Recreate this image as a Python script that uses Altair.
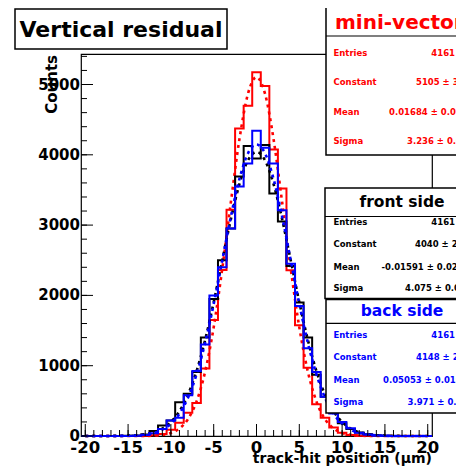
import altair as alt
import pandas as pd

# ---------------- data ----------------
bin_centers = list(range(-20, 21))

red_counts = [0, 0, 0, 0, 0, 0, 0, 3, 10, 30, 90, 190, 330, 470, 960, 1650, 2360, 3220, 4376, 4698,
              5174, 4979, 4077, 3521, 2357, 1574, 970, 450, 260, 120, 45, 15, 5, 2, 0, 0, 0, 0, 0, 0, 0]
black_counts = [0, 0, 0, 0, 0, 3, 8, 20, 70, 150, 220, 480, 600, 910, 1400, 1950, 2500, 2950, 3690, 4124,
                3949, 4138, 3450, 3050, 2420, 1900, 1400, 870, 560, 330, 180, 100, 50, 25, 10, 4, 0, 0, 0, 0, 0]
blue_counts = [0, 0, 0, 0, 0, 0, 5, 15, 40, 100, 220, 260, 580, 925, 1300, 2000, 2400, 2950, 3550, 3877,
               4342, 4100, 3877, 3210, 2450, 1850, 1250, 910, 560, 320, 200, 110, 45, 20, 8, 3, 0, 0, 0, 0, 0]

fit_x = list(range(-20, 21))
red_fit = [0, 0, 0, 0, 0, 0, 0, 1, 5, 16, 43, 107, 240, 492, 915, 1547, 2378, 3321, 4217, 4867,
           5105, 4867, 4217, 3321, 2378, 1547, 915, 492, 240, 107, 43, 16, 5, 1, 0, 0, 0, 0, 0, 0, 0]
black_fit = [0, 0, 0, 1, 2, 5, 11, 25, 53, 106, 199, 353, 588, 924, 1367, 1903, 2496, 3081, 3581, 3920,
             4040, 3920, 3581, 3081, 2496, 1903, 1367, 924, 588, 353, 199, 106, 53, 25, 11, 5, 2, 1, 0, 0, 0]
blue_fit = [0, 0, 0, 0, 1, 3, 8, 20, 43, 90, 174, 318, 545, 877, 1325, 1877, 2498, 3118, 3654, 4019,
            4148, 4019, 3654, 3118, 2498, 1877, 1325, 877, 545, 318, 174, 90, 43, 20, 8, 3, 1, 0, 0, 0, 0]

x_major = [-20, -15, -10, -5, 0, 5, 10, 15, 20]
x_minor = list(range(-20, 21))
y_major = [0, 1000, 2000, 3000, 4000, 5000]
y_minor = list(range(0, 5401, 200))

stats = {
    "mini-vector": ["4161", "5105 \u00b1 31.", "0.01684 \u00b1 0.0159", "3.236 \u00b1 0.01"],
    "front side": ["4161", "4040 \u00b1 24.", "-0.01591 \u00b1 0.0200", "4.075 \u00b1 0.01"],
    "back side": ["4161", "4148 \u00b1 25.", "0.05053 \u00b1 0.0195", "3.971 \u00b1 0.01"],
}
row_names = ["Entries", "Constant", "Mean", "Sigma"]

# ---------------- layout (page pixels) ----------------
FX0, FY0 = 81, 54          # plot frame origin on page
W, H = 351, 382
FONT = "DejaVu Sans"
SVG_W, SVG_H = 448, 458

xs = alt.Scale(domain=[-20.5, 20.5], nice=False, zero=False)
ys = alt.Scale(domain=[0, 5434], nice=False, zero=False)

one = pd.DataFrame({"k": [0]})


def vx(px):
    return px - FX0


def vy(py):
    return py - FY0


def text(t, px, py, size, color="black", align="left", baseline="middle", angle=0, weight="bold"):
    props = dict(font=FONT, fontSize=size, fontWeight=weight, color=color,
                 align=align, baseline=baseline)
    if angle:
        props["angle"] = angle
    return alt.Chart(pd.DataFrame({"t": [t]})).mark_text(**props).encode(
        x=alt.value(vx(px)), y=alt.value(vy(py)), text="t:N")


def box(x0, y0, x1, y1, sw=1.5):
    return alt.Chart(one).mark_rect(fill="white", stroke="black", strokeWidth=sw).encode(
        x=alt.value(vx(x0)), x2=alt.value(vx(x1)), y=alt.value(vy(y0)), y2=alt.value(vy(y1)))


def hline(x0, x1, y, sw=1.2):
    return alt.Chart(one).mark_rule(color="black", strokeWidth=sw).encode(
        x=alt.value(vx(x0)), x2=alt.value(vx(x1)), y=alt.value(vy(y)))


def hist(counts, color):
    edges = [c - 0.5 for c in bin_centers] + [bin_centers[-1] + 0.5]
    vals = counts + [counts[-1]]
    df = pd.DataFrame({"x": edges, "y": vals})
    return alt.Chart(df).mark_line(color=color, strokeWidth=2, interpolate="step-after").encode(
        x=alt.X("x:Q", scale=xs, axis=None), y=alt.Y("y:Q", scale=ys, axis=None))


def fit(vals, color):
    df = pd.DataFrame({"x": fit_x, "y": vals})
    return alt.Chart(df).mark_line(color=color, strokeWidth=2.6, strokeDash=[3, 4],
                                   interpolate="monotone").encode(
        x=alt.X("x:Q", scale=xs, axis=None), y=alt.Y("y:Q", scale=ys, axis=None))


layers = []
layers += [hist(red_counts, "#ff0000"), fit(red_fit, "#ff0000"),
           hist(black_counts, "#000000"), fit(black_fit, "#000000"),
           hist(blue_counts, "#0000ff"), fit(blue_fit, "#0000ff")]

# axis ticks (inside the frame)
layers.append(alt.Chart(pd.DataFrame({"v": x_major})).mark_rule(color="black", strokeWidth=1).encode(
    x=alt.X("v:Q", scale=xs, axis=None), y=alt.value(H), y2=alt.value(H - 12)))
layers.append(alt.Chart(pd.DataFrame({"v": x_minor})).mark_rule(color="black", strokeWidth=1).encode(
    x=alt.X("v:Q", scale=xs, axis=None), y=alt.value(H), y2=alt.value(H - 6)))
layers.append(alt.Chart(pd.DataFrame({"v": y_major})).mark_rule(color="black", strokeWidth=1).encode(
    y=alt.Y("v:Q", scale=ys, axis=None), x=alt.value(0), x2=alt.value(12)))
layers.append(alt.Chart(pd.DataFrame({"v": y_minor})).mark_rule(color="black", strokeWidth=1).encode(
    y=alt.Y("v:Q", scale=ys, axis=None), x=alt.value(0), x2=alt.value(6)))

# tick labels
layers.append(alt.Chart(pd.DataFrame({"v": x_major, "s": [str(v) for v in x_major]})).mark_text(
    font=FONT, fontSize=16.5, fontWeight="bold", align="center", baseline="alphabetic").encode(
    x=alt.X("v:Q", scale=xs, axis=None), y=alt.value(vy(453)), text="s:N"))
layers.append(alt.Chart(pd.DataFrame({"v": y_major, "s": [str(v) for v in y_major]})).mark_text(
    font=FONT, fontSize=15, fontWeight="bold", align="right", baseline="middle").encode(
    y=alt.Y("v:Q", scale=ys, axis=None), x=alt.value(vx(80)), text="s:N"))

# axis titles
layers.append(text("track-hit position (\u03bcm)", 432, 462.5, 14, align="right", baseline="alphabetic"))
layers.append(text("Counts", 51.5, 55, 15, align="right", angle=270))

# title box
layers.append(box(15, 9, 227, 49))
layers.append(text("Vertical residual", 121, 30, 22, align="center"))

# stats boxes
specs = [
    ("mini-vector", "#ff0000", (326, 7, 490, 155), 36, 20, [52.5, 81.5, 112, 140.5],
     [None, 416, 389, 407]),
    ("front side", "#000000", (325, 188, 490, 298.5), 216.5, 15.5, [221.7, 244.3, 266.5, 287.7],
     [None, 415, 381.5, 405]),
    ("back side", "#0000ff", (326, 299.5, 490, 413), 323.3, 15.5, [334.7, 357.3, 380, 402.3],
     [None, 416, 383, 407.5]),
]
for name, col, (bx0, by0, bx1, by1), sep, hsize, rows, vstarts in specs:
    layers.append(box(bx0, by0, bx1, by1))
    layers.append(hline(bx0, bx1, sep))
    if name == "mini-vector":
        layers.append(text(name, 335, (by0 + sep) / 2 + 1, hsize, color=col, align="left"))
    else:
        layers.append(text(name, 402, (by0 + sep) / 2, hsize, color=col, align="center"))
    vals = stats[name]
    for i, rn in enumerate(row_names):
        layers.append(text(rn, 333.5, rows[i], 8.5, color=col, align="left"))
        if vstarts[i] is None:
            layers.append(text(vals[i], 455, rows[i], 8.5, color=col, align="right"))
        else:
            layers.append(text(vals[i], vstarts[i], rows[i], 8.5, color=col, align="left"))

chart = alt.layer(*layers).properties(
    width=W, height=H,
    padding={"left": FX0 - 8, "top": FY0 - 8,
             "right": SVG_W - (FX0 - 8) - W, "bottom": SVG_H - (FY0 - 8) - H},
    autosize=alt.AutoSizeParams(type="none"),
).configure_view(stroke="black", strokeWidth=1.2)

chart.save("out.html", embed_options={"renderer": "svg", "actions": False})
